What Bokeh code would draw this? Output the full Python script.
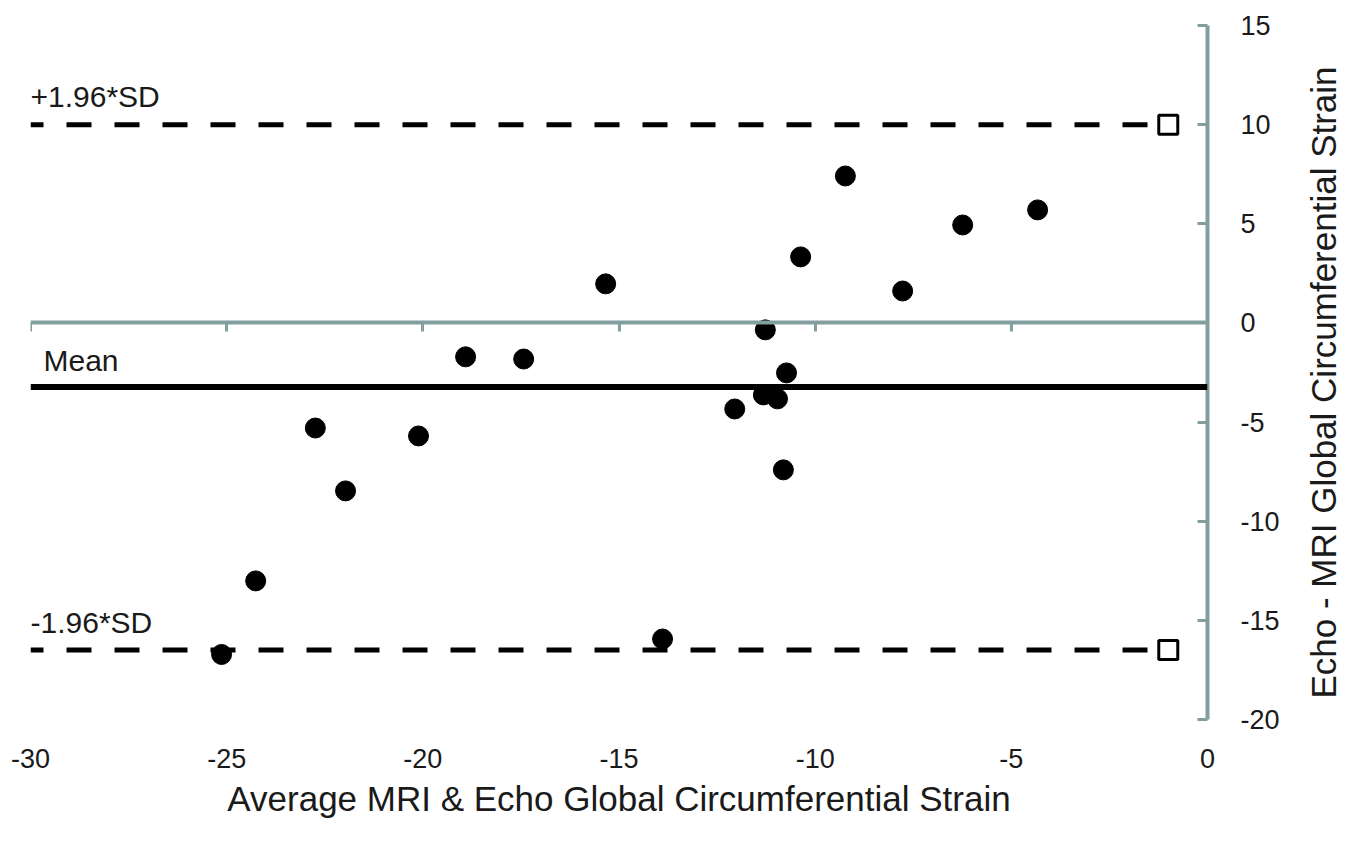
import math
from bokeh.plotting import figure
from bokeh.layouts import row
from bokeh.models import Range1d, LinearAxis, FixedTicker, Span, Label, CustomJSTickFormatter
from bokeh.embed import file_html
from bokeh.resources import INLINE

# ---- data ----
avg_strain = [-25.13, -24.26, -22.74, -21.97, -20.11, -18.91, -17.43, -15.34, -13.89, -12.05,
              -11.27, -11.32, -10.96, -10.73, -10.81, -10.37, -9.23, -7.77, -6.24, -4.33]
diff_strain = [-16.72, -13.01, -5.30, -8.47, -5.70, -1.71, -1.82, 1.97, -15.94, -4.34,
               -0.35, -3.63, -3.83, -2.52, -7.41, 3.33, 7.41, 1.61, 4.94, 5.70]
mean_diff = -3.23
upper_loa = 10.0
lower_loa = -16.5
loa_x = [-30, -1]
x_ticks = [-30, -25, -20, -15, -10, -5, 0]
y_ticks = [-20, -15, -10, -5, 0, 5, 10, 15]
x_title = "Average MRI & Echo Global Circumferential Strain"
y_title = "Echo - MRI Global Circumferential Strain"

FONT = "Liberation Sans"
AXIS_COLOR = "#829e9e"
TEXT = "#1a1a1a"

y_range = Range1d(-20, 15)

p = figure(width=1290, height=842, x_range=Range1d(-30, 0), y_range=y_range,
           output_backend="svg", toolbar_location=None, y_axis_location="right",
           min_border_left=30, min_border_top=25, min_border_right=83, min_border_bottom=123)
p.outline_line_color = None
p.xgrid.visible = False
p.ygrid.visible = False
p.background_fill_color = "white"
p.border_fill_color = "white"

hyphen_fmt = CustomJSTickFormatter(code="return tick.toString();")

# bottom labels axis
xa = p.xaxis[0]
xa.ticker = FixedTicker(ticks=x_ticks)
xa.formatter = hyphen_fmt
xa.axis_line_color = None
xa.major_tick_line_color = None
xa.minor_tick_line_color = None
xa.major_label_text_font = FONT
xa.major_label_text_font_size = "27px"
xa.major_label_text_color = TEXT
xa.major_label_standoff = 23
xa.axis_label = x_title
xa.axis_label_text_font = FONT
xa.axis_label_text_font_size = "35px"
xa.axis_label_text_font_style = "normal"
xa.axis_label_text_color = TEXT
xa.axis_label_standoff = 8

# axis line crossing at y = 0
zero_axis = LinearAxis(fixed_location=0, ticker=FixedTicker(ticks=x_ticks),
                       formatter=CustomJSTickFormatter(code="return '';"),
                       axis_line_color=AXIS_COLOR, axis_line_width=4,
                       major_tick_line_color=AXIS_COLOR, major_tick_line_width=3,
                       major_tick_in=0, major_tick_out=9, minor_tick_line_color=None,
                       major_label_standoff=0)
p.add_layout(zero_axis, "below")

# right y axis
ya = p.yaxis[0]
ya.ticker = FixedTicker(ticks=y_ticks)
ya.formatter = hyphen_fmt
ya.axis_line_color = AXIS_COLOR
ya.axis_line_width = 4
ya.major_tick_line_color = AXIS_COLOR
ya.major_tick_line_width = 3
ya.major_tick_in = 10
ya.major_tick_out = 0
ya.minor_tick_line_color = None
ya.major_label_text_font = FONT
ya.major_label_text_font_size = "27px"
ya.major_label_text_color = TEXT
ya.major_label_standoff = 33

# mean line
p.add_layout(Span(location=mean_diff, dimension="width", line_color="black", line_width=6))

# limits of agreement
for loa in (upper_loa, lower_loa):
    p.line(loa_x, [loa, loa], line_color="black", line_width=5,
           line_dash="25 23", line_dash_offset=12)
    p.scatter([loa_x[-1]], [loa], marker="square", size=19, fill_color="white",
              line_color="black", line_width=3)

# points
p.scatter(avg_strain, diff_strain, size=20, color="black")

# annotations
lab_kw = dict(text_font=FONT, text_font_size="30px", text_color=TEXT, text_baseline="alphabetic")
p.add_layout(Label(x=loa_x[0], y=upper_loa, text="+1.96*SD", x_offset=0, y_offset=28, **lab_kw))
p.add_layout(Label(x=loa_x[0], y=mean_diff, text="Mean", x_offset=13, y_offset=26, **lab_kw))
p.add_layout(Label(x=loa_x[0], y=lower_loa, text="-1.96*SD", x_offset=0, y_offset=28, **lab_kw))

# y-axis title panel (reads bottom to top)
t = figure(width=65, height=842, x_range=Range1d(0, 1), y_range=y_range,
           output_backend="svg", toolbar_location=None,
           x_axis_location=None, y_axis_location=None,
           min_border_left=0, min_border_right=0, min_border_top=25, min_border_bottom=123)
t.outline_line_color = None
t.xgrid.visible = False
t.ygrid.visible = False
t.add_layout(Label(x=0.5, y=(y_range.start + y_range.end) / 2, y_offset=-10, angle=math.pi / 2,
                   text=y_title, text_align="center", text_baseline="middle",
                   text_font=FONT, text_font_size="35px", text_color=TEXT))

open("out.html", "w").write(file_html(row(p, t), INLINE))
